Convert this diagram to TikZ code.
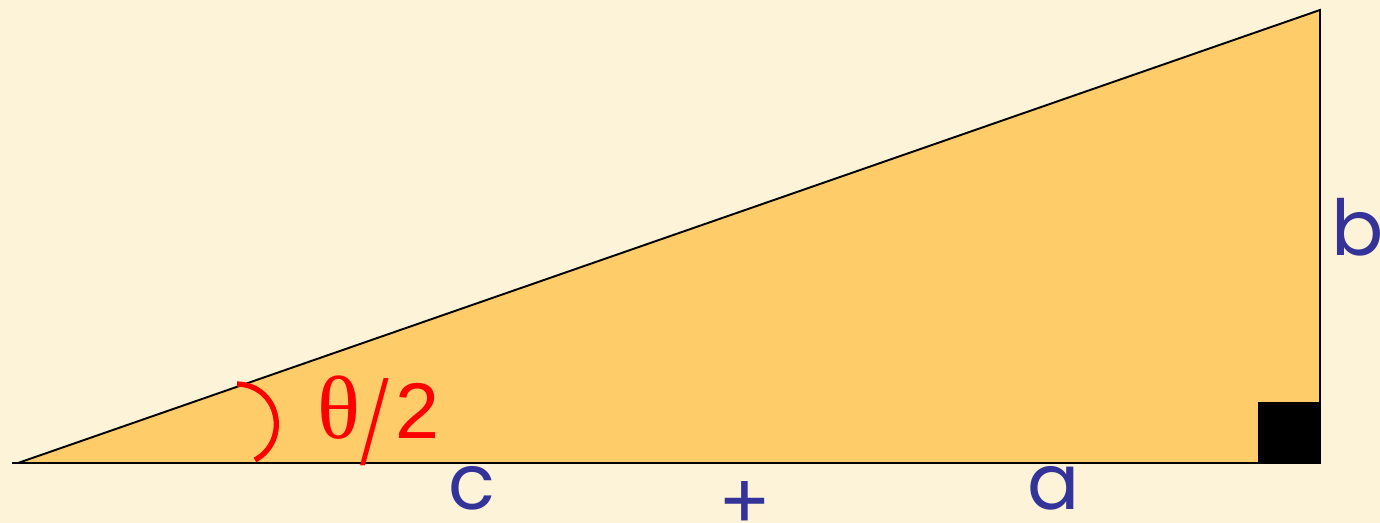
\documentclass[tikz,border=0pt]{standalone}
\usepackage{fontspec}
\setmainfont{Liberation Serif}
\newfontfamily\gothicfont{Poppins}
\newfontfamily\arialfont{Liberation Sans}
\usetikzlibrary{positioning}

\definecolor{parchment}{RGB}{252,243,216}
\definecolor{wedge}{RGB}{254,205,106}
\definecolor{sideblue}{RGB}{51,51,153}

\begin{document}
\begin{tikzpicture}[
    x=0.02cm, y=-0.02cm,
    edge/.style   ={draw=black, line width=1.1pt},
    corner/.style ={fill=black},
    sidelbl/.style={text=sideblue, inner sep=0pt,
                    font=\gothicfont\fontsize{44}{44}\selectfont},
    angmark/.style={draw=red, line width=3pt},
    anglbl/.style ={text=red, inner sep=0pt,
                    font=\fontsize{45}{45}\selectfont}
  ]

  % ---- page and background ---------------------------------------------
  \useasboundingbox (0,0) rectangle (1380,523);
  \fill[parchment] (0,0) rectangle (1380,523);

  % ---- triangle vertices -------------------------------------------------
  \coordinate (A) at (18,463);
  \coordinate (B) at (1320,463);
  \coordinate (C) at (1320,10);
  \coordinate (tail) at (12,463);

  \fill[wedge] (A) -- (B) -- (C) -- cycle;
  \fill[corner] (1258,402) rectangle (B);
  \draw[edge] (tail) -- (B) -- (C) -- (A);

  % ---- half angle at A ---------------------------------------------------
  \coordinate (arcTop) at (237,384);
  \coordinate (arcBot) at (255,460);
  \draw[angmark] (arcTop) .. controls (279,385) and (291,440) .. (arcBot);
  \node[anglbl, anchor=base west] (half) at (317,439)
    {{\fontsize{51}{51}\selectfont θ}\raisebox{-14.4pt}{\scalebox{1.3}[1.65]{/}}\kern4pt{\arialfont 2}};

  % ---- side labels -------------------------------------------------------
  \node[sidelbl, anchor=base] (c)    at (472,510) {c};
  \node[sidelbl]              (plus) at (745,505) {+};
  \node[sidelbl, anchor=base] (a)    at (1054,510) {a};
  \node[sidelbl, anchor=base] (b)    at (1358,256) {b};

\end{tikzpicture}
\end{document}
